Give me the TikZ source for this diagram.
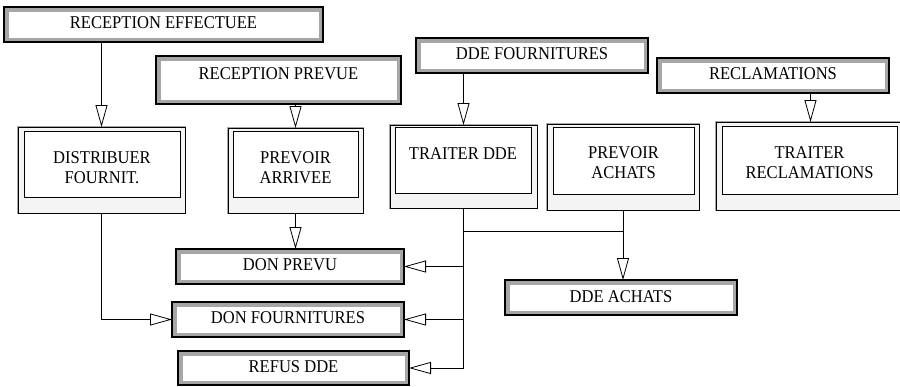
\documentclass[tikz,border=0pt]{standalone}
\usepackage{fontspec}
\setmainfont{Liberation Serif}[FakeStretch=0.92]
\usetikzlibrary{arrows.meta}
\definecolor{evgray}{HTML}{A6A6A6}
\definecolor{prfill}{HTML}{F4F4F4}
\begin{document}
\begin{tikzpicture}[x=1pt,y=-1pt,
  evbox/.style={draw=black, line width=1.1pt, fill=evgray, inner sep=0pt, outer sep=0pt,
    path picture={\fill[white] ([xshift=4.5pt,yshift=-4.5pt]path picture bounding box.north west) rectangle ([xshift=-4.5pt,yshift=4.5pt]path picture bounding box.south east);}},
  prbox/.style={draw=black, line width=0.8pt, fill=prfill, preaction={draw=gray!70, line width=2.6pt}, inner sep=0pt, outer sep=0pt},
  prin/.style={draw=black, line width=0.8pt, fill=white, inner sep=0pt, outer sep=0pt},
  txt/.style={font=\fontsize{18}{20}\selectfont, align=center, inner sep=0pt},
  arr/.style={-{Triangle[open,length=22pt,width=12pt]}, line width=0.8pt},
  conn/.style={line width=0.8pt}]
\useasboundingbox (0,0) rectangle (900,386);

% event boxes
\node[evbox, minimum width=319pt, minimum height=35pt] (eff) at (163.5,24.5) {};
\node[txt] (efft) at (163.5,22.5) {RECEPTION EFFECTUEE};
\node[evbox, minimum width=245pt, minimum height=48pt] (rprev) at (278.5,80) {};
\node[txt] (rprevt) at (278.5,73.5) {RECEPTION PREVUE};
\node[evbox, minimum width=232pt, minimum height=35pt] (ddef) at (532,55.5) {};
\node[txt] (ddeft) at (532,54) {DDE FOURNITURES};
\node[evbox, minimum width=232pt, minimum height=35pt] (recl) at (773,75.5) {};
\node[txt] (reclt) at (773,73.5) {RECLAMATIONS};
\node[evbox, minimum width=228pt, minimum height=35pt] (donprevu) at (290,266.5) {};
\node[txt] (donprevut) at (290,265) {DON PREVU};
\node[evbox, minimum width=232pt, minimum height=35pt] (donf) at (288,319.5) {};
\node[txt] (donft) at (288,318) {DON FOURNITURES};
\node[evbox, minimum width=231pt, minimum height=34pt] (refus) at (293.5,368) {};
\node[txt] (refust) at (293.5,367) {REFUS DDE};
\node[evbox, minimum width=232pt, minimum height=35pt] (ddeach) at (621,297.5) {};
\node[txt] (ddeacht) at (621,297) {DDE ACHATS};

% process boxes
\node[prbox, minimum width=167pt, minimum height=86pt] (dist) at (101.5,170) {};
\node[prin, minimum width=156pt, minimum height=66pt] (distin) at (102,164) {};
\node[txt] (distt) at (102,168) {DISTRIBUER\\FOURNIT.};
\node[prbox, minimum width=135pt, minimum height=85pt] (parr) at (295.5,170.5) {};
\node[prin, minimum width=125pt, minimum height=66pt] (parrin) at (295.5,164) {};
\node[txt] (parrt) at (295.5,167.5) {PREVOIR\\ARRIVEE};
\node[prbox, minimum width=147pt, minimum height=83pt] (tdde) at (463.5,166.5) {};
\node[prin, minimum width=136pt, minimum height=66pt] (tddein) at (463,160) {};
\node[txt] (tddet) at (463,154) {TRAITER DDE};
\node[prbox, minimum width=152pt, minimum height=86pt] (pach) at (623,167) {};
\node[prin, minimum width=141pt, minimum height=67pt] (pachin) at (623.5,160.5) {};
\node[txt] (pacht) at (623.5,163) {PREVOIR\\ACHATS};
\node[prbox, minimum width=189pt, minimum height=88pt] (trec) at (810.5,166) {};
\node[prin, minimum width=175pt, minimum height=68pt] (trecin) at (809.5,160) {};
\node[txt] (trect) at (809.5,162.5) {TRAITER\\RECLAMATIONS};

% connectors
\draw[arr] (dist.north |- eff.south) -- (dist.north);
\draw[arr] (parr.north |- rprev.south) -- (parr.north);
\draw[arr] (tdde.north |- ddef.south) -- (tdde.north);
\draw[arr] (trec.north |- recl.south) -- (trec.north);
\draw[arr] (parr.south) -- (parr.south |- donprevu.north);
\draw[arr] (dist.south) |- (donf.west);
\draw[conn] (tdde.south) -- (tdde.south |- refus.east);
\draw[arr] (tdde.south |- refus.east) -- (refus.east);
\draw[arr] (tdde.south |- donprevu.east) -- (donprevu.east);
\draw[arr] (tdde.south |- donf.east) -- (donf.east);
\coordinate (jt) at (463.5,231);
\draw[conn] (jt) -- (jt -| pach.south);
\draw[arr] (pach.south) -- (pach.south |- ddeach.north);
\end{tikzpicture}
\end{document}
